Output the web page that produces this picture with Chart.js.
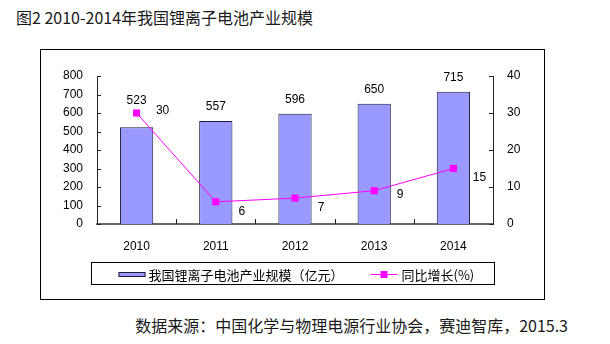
<!DOCTYPE html>
<html>
<head>
<meta charset="utf-8">
<script src="https://cdn.jsdelivr.net/npm/chart.js@4"></script>
<style>
  html, body { margin: 0; padding: 0; background: #fff; }
  body { width: 610px; height: 344px; position: relative; overflow: hidden; font-family: "Noto Sans CJK SC", sans-serif; }
  #title { position: absolute; left: 16px; top: 7px; font-size: 16px; line-height: 20px; color: #1a1a1a; white-space: nowrap; }
  #frame { position: absolute; left: 40px; top: 49px; width: 503px; height: 249px; border: 1px solid #000; }
  #frame canvas { display: block; }
  #source { position: absolute; right: 42px; top: 315px; font-size: 16px; line-height: 20px; color: #1a1a1a; white-space: nowrap; }
</style>
</head>
<body>
<div id="title">图2 2010-2014年我国锂离子电池产业规模</div>
<div id="frame"><canvas id="scaleChart" width="503" height="249"></canvas></div>
<div id="source">数据来源：中国化学与物理电源行业协会，赛迪智库，2015.3</div>
<script>
const years = ['2010', '2011', '2012', '2013', '2014'];
const scaleValues = [523, 557, 596, 650, 715];   // 亿元
const growthValues = [30, 6, 7, 9, 15];          // %
const leftTicks = [0, 100, 200, 300, 400, 500, 600, 700, 800];
const rightTicks = [0, 10, 20, 30, 40];

const numFont = '12px "Liberation Sans", Arial, sans-serif';
const legendFont = '13px "Noto Sans CJK SC", sans-serif';
const barFill = '#9999ff';
const barEdge = '#1c1c40';
const lineColor = '#ff00ff';

// value labels over bars and next to points
const valueLabels = {
    id: 'valueLabels',
    afterDatasetsDraw(chart) {
        const ctx = chart.ctx;
        const bars = chart.getDatasetMeta(0).data;
        const pts = chart.getDatasetMeta(1).data;
        const nudge = chart.options.plugins.valueLabels.pointNudge;
        ctx.save();
        ctx.font = numFont;
        ctx.fillStyle = '#000';
        ctx.textAlign = 'center';
        ctx.textBaseline = 'middle';
        bars.forEach((bar, i) => {
            let y = bar.y - 14;
            if (Math.abs(y - pts[i].y) < 12) y = pts[i].y - 12;
            ctx.fillText(String(scaleValues[i]), bar.x, y);
        });
        pts.forEach((p, i) => {
            ctx.fillText(String(growthValues[i]), p.x + 26, p.y + nudge[i]);
        });
        ctx.restore();
    }
};

// inward tick marks
const axisTicks = {
    id: 'axisTicks',
    afterDraw(chart) {
        const ctx = chart.ctx;
        const a = chart.chartArea;
        const { x, y, y1 } = chart.scales;
        ctx.save();
        ctx.strokeStyle = '#222';
        ctx.lineWidth = 1;
        ctx.beginPath();
        y.ticks.forEach((t, i) => {
            const py = Math.round(y.getPixelForTick(i)) + 0.5;
            ctx.moveTo(a.left, py); ctx.lineTo(a.left + 4, py);
        });
        y1.ticks.forEach((t, i) => {
            const py = Math.round(y1.getPixelForTick(i)) + 0.5;
            ctx.moveTo(a.right - 4, py); ctx.lineTo(a.right, py);
        });
        for (let i = 0; i < years.length - 1; i++) {
            const px = Math.round((x.getPixelForValue(i) + x.getPixelForValue(i + 1)) / 2) + 0.5;
            ctx.moveTo(px, a.bottom); ctx.lineTo(px, a.bottom - 5);
        }
        ctx.stroke();
        ctx.restore();
    }
};

// boxed legend under the axis, Excel style
const boxLegend = {
    id: 'boxLegend',
    afterDraw(chart) {
        const ctx = chart.ctx;
        const a = chart.chartArea;
        const sets = chart.data.datasets;
        ctx.save();
        ctx.font = legendFont;
        const w0 = ctx.measureText(sets[0].label).width;
        const w1 = ctx.measureText(sets[1].label).width;
        const total = 27 + 27 + 3 + w0 + 27 + 27 + 4 + w1 + 20;
        const left = Math.round(chart.width / 2 - total / 2) + 0.5;
        const cy = Math.round(a.bottom + 50);
        ctx.strokeStyle = '#000';
        ctx.lineWidth = 1;
        ctx.strokeRect(left, cy - 11.5, Math.round(total), 22);

        let cx = left + 27;
        ctx.fillStyle = barFill;
        ctx.fillRect(cx, cy - 2, 27, 5);
        ctx.strokeStyle = barEdge;
        ctx.strokeRect(cx + 0.5, cy - 1.5, 26, 4);
        cx += 30;
        ctx.fillStyle = '#000';
        ctx.textBaseline = 'middle';
        ctx.fillText(sets[0].label, cx, cy + 1);
        cx += w0 + 27;
        ctx.strokeStyle = lineColor;
        ctx.beginPath();
        ctx.moveTo(cx, cy + 0.5); ctx.lineTo(cx + 27, cy + 0.5);
        ctx.stroke();
        ctx.fillStyle = lineColor;
        ctx.fillRect(cx + 10, cy - 3, 7, 7);
        cx += 31;
        ctx.fillStyle = '#000';
        ctx.fillText(sets[1].label, cx, cy + 1);
        ctx.restore();
    }
};

const tickFont = { family: '"Liberation Sans", Arial, sans-serif', size: 12 };

const ctx = document.getElementById('scaleChart').getContext('2d');
const scaleChart = new Chart(ctx, {
    data: {
        labels: years,
        datasets: [
            {
                type: 'bar',
                label: '我国锂离子电池产业规模（亿元）',
                data: scaleValues,
                backgroundColor: barFill,
                borderColor: barEdge,
                borderWidth: 1,
                barPercentage: 0.42,
                categoryPercentage: 1,
                yAxisID: 'y',
                order: 2
            },
            {
                type: 'line',
                label: '同比增长(%)',
                data: growthValues,
                borderColor: lineColor,
                borderWidth: 1,
                backgroundColor: lineColor,
                pointStyle: 'rect',
                pointRadius: 5,
                pointBorderWidth: 0,
                tension: 0,
                yAxisID: 'y1',
                order: 1
            }
        ]
    },
    options: {
        responsive: false,
        animation: false,
        devicePixelRatio: 1,
        layout: { padding: { top: 26, left: 0, right: 0, bottom: 36 } },
        scales: {
            x: {
                grid: { display: false, drawTicks: false },
                border: { display: true, color: '#6a6a6a', width: 2 },
                ticks: { color: '#000', font: tickFont, padding: 15 },
                afterFit: s => { s.height = 39; }
            },
            y: {
                position: 'left',
                min: 0, max: 800,
                afterBuildTicks: s => { s.ticks = leftTicks.map(v => ({ value: v })); },
                grid: { display: false, drawTicks: false },
                border: { display: true, color: '#222', width: 1 },
                ticks: { color: '#000', font: tickFont, padding: 14, autoSkip: false },
                afterFit: s => { s.width = 56; }
            },
            y1: {
                position: 'right',
                min: 0, max: 40,
                afterBuildTicks: s => { s.ticks = rightTicks.map(v => ({ value: v })); },
                grid: { display: false, drawTicks: false },
                border: { display: true, color: '#222', width: 1 },
                ticks: { color: '#000', font: tickFont, padding: 14, autoSkip: false },
                afterFit: s => { s.width = 51; }
            }
        },
        plugins: {
            legend: { display: false },
            tooltip: { enabled: false },
            valueLabels: { pointNudge: [-2, 10, 10, 4, 9] }
        }
    },
    plugins: [valueLabels, axisTicks, boxLegend]
});
</script>
</body>
</html>
